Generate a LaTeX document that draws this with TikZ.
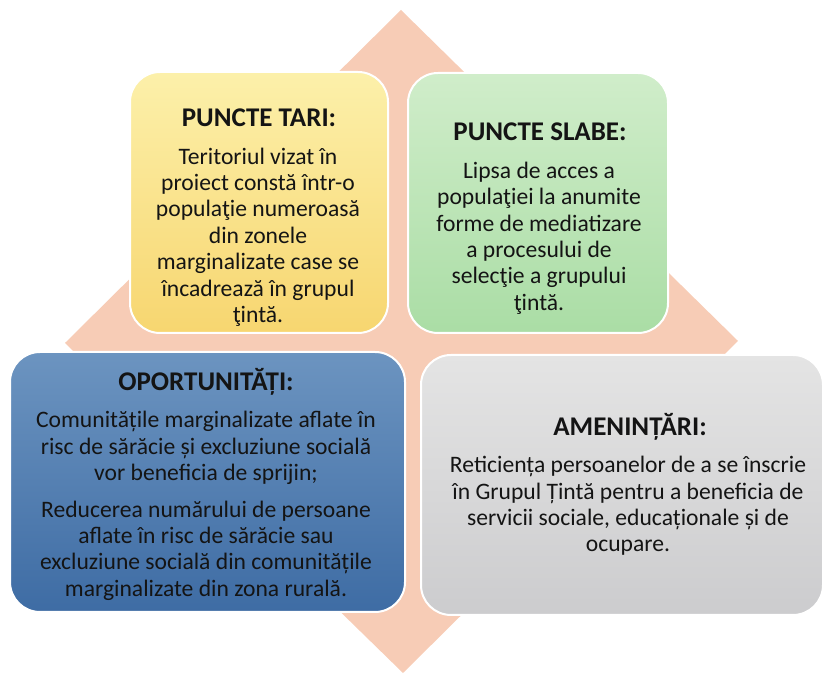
\documentclass[tikz,border=0pt]{standalone}
\usepackage{fontspec}
\setmainfont{Carlito}
\usepackage{xcolor}
\usepackage{tikz}
\usetikzlibrary{positioning}

\definecolor{diamondfill}{RGB}{247,204,182}
\definecolor{tariTop}{RGB}{252,240,170}
\definecolor{tariBottom}{RGB}{247,214,112}
\definecolor{slabeTop}{RGB}{208,237,202}
\definecolor{slabeBottom}{RGB}{170,221,165}
\definecolor{oportTop}{RGB}{108,148,192}
\definecolor{oportBottom}{RGB}{62,108,164}
\definecolor{ameninTop}{RGB}{228,228,228}
\definecolor{ameninBottom}{RGB}{204,204,206}
\definecolor{swottext}{RGB}{20,20,20}

\tikzset{
  swotbox/.style={draw=white, line width=1pt, rounded corners=15pt},
  swottitle/.style={font=\fontsize{13.5}{15}\selectfont\bfseries, text=swottext, inner sep=0pt},
  swotbody/.style={font=\fontsize{11.8}{13.2}\selectfont, text=swottext, align=center, inner sep=0pt}
}

\begin{document}
\begin{tikzpicture}[x=0.5pt,y=0.5pt]
        \useasboundingbox (0,0) rectangle (826,674);

        % Draw the diamond
        \fill[diamondfill] (401,664) -- (738,333) -- (403,1) -- (65,331) -- cycle;

        % Place boxes
        \node[swotbox, top color=tariTop, bottom color=tariBottom,
              minimum width=129pt, minimum height=130.5pt] (tari) at (259,471.5) {};
        \node[swotbox, top color=slabeTop, bottom color=slabeBottom,
              minimum width=130pt, minimum height=130pt] (slabe) at (538,471) {};
        \node[swotbox, top color=oportTop, bottom color=oportBottom,
              minimum width=197.5pt, minimum height=130pt] (oport) at (207.5,192) {};
        \node[swotbox, top color=ameninTop, bottom color=ameninBottom,
              minimum width=201pt, minimum height=130pt] (amenin) at (622,189) {};

        % Puncte tari
        \node[swottitle] (tariTitle) at (259,556) {PUNCTE TARI:};
        \node[swotbody] (tariBody) at (258,437) {Teritoriul vizat în\\proiect constă într-o\\populaţie numeroasă\\din zonele\\marginalizate case se\\încadrează în grupul\\ţintă.};

        % Puncte slabe
        \node[swottitle] (slabeTitle) at (540,542) {PUNCTE SLABE:};
        \node[swotbody] (slabeBody) at (539,436) {Lipsa de acces a\\populaţiei la anumite\\forme de mediatizare\\a procesului de\\selecţie a grupului\\ţintă.};

        % Oportunitati
        \node[swottitle] (oportTitle) at (206,292) {OPORTUNITĂȚI:};
        \node[swotbody] (oportBody) at (206,168) {Comunitățile marginalizate aflate în\\risc de sărăcie și excluziune socială\\vor beneficia de sprijin;\\[5pt]Reducerea numărului de persoane\\aflate în risc de sărăcie sau\\excluziune socială din comunitățile\\marginalizate din zona rurală.};

        % Amenintari
        \node[swottitle] (ameninTitle) at (630,247) {AMENINȚĂRI:};
        \node[swotbody] (ameninBody) at (628,168) {Reticiența persoanelor de a se înscrie\\în Grupul Țintă pentru a beneficia de\\servicii sociale, educaționale și de\\ocupare.};
    \end{tikzpicture}
\end{document}
